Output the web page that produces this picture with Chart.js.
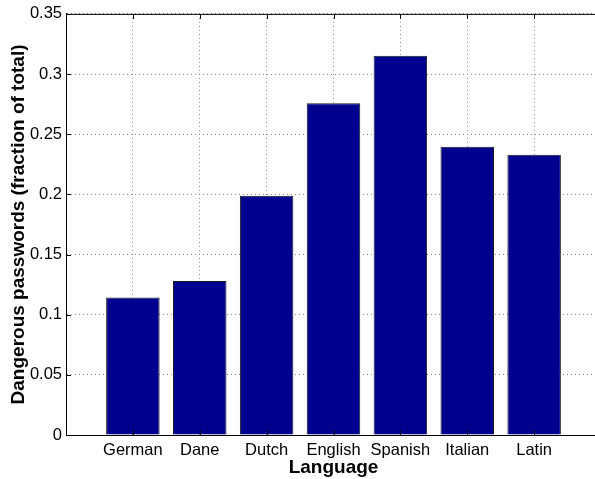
<!DOCTYPE html>
<html>
<head>
<meta charset="utf-8">
<script src="https://cdn.jsdelivr.net/npm/chart.js@4"></script>
<style>
    html, body { margin: 0; padding: 0; background: #fff; overflow: hidden; }
    canvas { display: block; }
</style>
</head>
<body>
<canvas id="pwChart" width="602" height="479"></canvas>
<script>
// Share of dangerous passwords per dictionary language
let languages = ["German", "Dane", "Dutch", "English", "Spanish", "Italian", "Latin"];
let dangerShare = [0.1143, 0.128, 0.1988, 0.2758, 0.3152, 0.2396, 0.233];
let yTicks = [0, 0.05, 0.1, 0.15, 0.2, 0.25, 0.3, 0.35];

let fontFamily = "'Liberation Sans', Arial, Helvetica, sans-serif";

// bars sit at positions 1..n, axis runs 0..n+1
let barPoints = languages.map((lang, i) => ({ x: i + 1, y: dangerShare[i] }));

// Box outline on top plus small inward tick marks
let boxTicks = {
    id: "boxTicks",
    afterDraw(chart) {
        let ctx = chart.ctx;
        let area = chart.chartArea;
        let xs = chart.scales.x;
        let ys = chart.scales.y;
        ctx.save();
        ctx.strokeStyle = "#000";
        ctx.lineWidth = 1;
        ctx.beginPath();
        ctx.moveTo(area.left, area.top + 0.5);
        ctx.lineTo(area.right, area.top + 0.5);
        languages.forEach((lang, i) => {
            let px = Math.round(xs.getPixelForValue(i + 1)) + 0.5;
            ctx.moveTo(px, area.bottom);
            ctx.lineTo(px, area.bottom - 5);
            ctx.moveTo(px, area.top);
            ctx.lineTo(px, area.top + 5);
        });
        yTicks.forEach(v => {
            let py = Math.round(ys.getPixelForValue(v)) + 0.5;
            ctx.moveTo(area.left, py);
            ctx.lineTo(area.left + 5, py);
        });
        ctx.stroke();
        ctx.restore();
    }
};

new Chart(document.getElementById("pwChart"), {
    type: "bar",
    data: {
        datasets: [{
            data: barPoints,
            backgroundColor: "#00008F",
            borderColor: "#1a1a1a",
            borderWidth: 1,
            barPercentage: 0.8,
            categoryPercentage: 1.0
        }]
    },
    options: {
        responsive: false,
        animation: false,
        layout: { padding: { top: 13, right: 1, left: 0, bottom: 0 } },
        plugins: {
            legend: { display: false },
            tooltip: { enabled: false }
        },
        scales: {
            x: {
                type: "linear",
                offset: false,
                min: 0,
                max: languages.length + 1,
                afterBuildTicks(scale) {
                    scale.ticks = languages.map((lang, i) => ({ value: i + 1 }));
                },
                grid: {
                    offset: false,
                    drawTicks: false,
                    color: "#8a8a8a"
                },
                border: { color: "#000", width: 1, dash: [1, 3] },
                ticks: {
                    color: "#000",
                    padding: 6,
                    autoSkip: false,
                    maxRotation: 0,
                    font: { family: fontFamily, size: 16.5 },
                    callback: v => languages[v - 1]
                },
                title: {
                    display: true,
                    text: "Language",
                    color: "#000",
                    padding: { top: 0, bottom: 0 },
                    font: { family: fontFamily, size: 19, weight: "bold" }
                },
                afterFit(scale) { scale.height = 44; }
            },
            y: {
                min: 0,
                max: 0.35,
                afterBuildTicks(scale) {
                    scale.ticks = yTicks.map(v => ({ value: v }));
                },
                grid: {
                    drawTicks: false,
                    color: "#8a8a8a"
                },
                border: { color: "#000", width: 1, dash: [1, 3] },
                ticks: {
                    color: "#000",
                    padding: 4,
                    font: { family: fontFamily, size: 16.5 },
                    callback: v => String(parseFloat(v.toFixed(2)))
                },
                title: {
                    display: true,
                    text: "Dangerous passwords (fraction of total)",
                    color: "#000",
                    padding: { top: 7, bottom: 0 },
                    font: { family: fontFamily, size: 19, weight: "bold" }
                },
                afterFit(scale) { scale.width = 66; }
            }
        }
    },
    plugins: [boxTicks]
});
</script>
</body>
</html>
